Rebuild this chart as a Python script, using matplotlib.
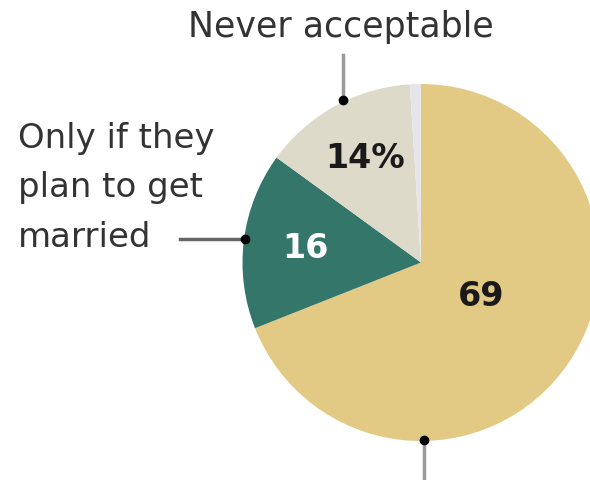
import matplotlib
matplotlib.use('Agg')
import matplotlib.pyplot as plt

# Share saying premarital sex is acceptable ...
categories = ['Always acceptable', 'Only if they plan to get married', 'Never acceptable', 'No answer']
values = [69, 16, 14, 1]
value_labels = ['69', '16', '14%', '']
colors = ['#E2C984', '#35766A', '#DEDAC9', '#E6E6EA']

W, H = 590, 481
fig = plt.figure(figsize=(W / 100, H / 100), dpi=100)
ax = fig.add_axes([0, 0, 1, 1])

# pie in pixel coordinates (y measured from the bottom)
cx, cy, r = 421, H - 263.5, 178.5
ax.pie(values, colors=colors, startangle=90, counterclock=False,
       center=(cx, cy), radius=r, frame=True,
       wedgeprops=dict(linewidth=0))
ax.set_xlim(0, W)
ax.set_ylim(0, H)
ax.axis('off')

# numbers inside the slices
ax.text(481, H - 296, value_labels[0], ha='center', va='center',
        fontsize=24, fontweight='bold', color='#1a1a1a')
ax.text(305, H - 248, value_labels[1], ha='center', va='center',
        fontsize=24, fontweight='bold', color='white')
ax.text(365, H - 158, value_labels[2], ha='center', va='center',
        fontsize=24, fontweight='bold', color='#1a1a1a')

# outside labels with leader lines
txt = '#333333'
ax.text(341, H - 27, categories[2], ha='center', va='center',
        fontsize=25, color=txt)
ax.plot([343, 343], [H - 56, H - 101], color='#9a9a9a', lw=2.5)
ax.plot(343, H - 101, 'o', color='black', ms=6)

ax.text(18, H - 188, 'Only if they\nplan to get\nmarried', ha='left', va='center',
        fontsize=24.5, color=txt, linespacing=1.62)
ax.plot([180, 245], [H - 240, H - 240], color='#666666', lw=2.5)
ax.plot(245, H - 240, 'o', color='black', ms=6)

ax.plot([424, 424], [H - 441, -5], color='#9a9a9a', lw=2.5, clip_on=False)
ax.plot(424, H - 441, 'o', color='black', ms=6)

fig.savefig('out.png', dpi=100)
